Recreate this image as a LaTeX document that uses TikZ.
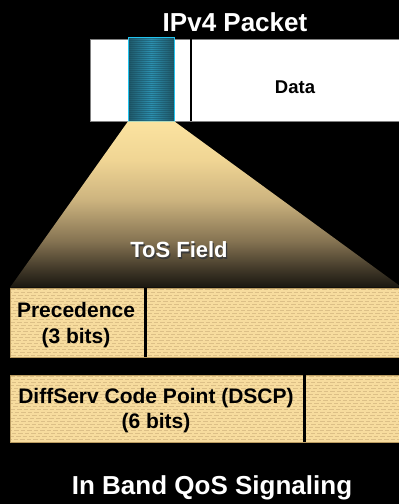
\documentclass[tikz,border=0pt]{standalone}
\usepackage{fontspec}
\setmainfont{Liberation Sans}
\definecolor{tosA}{HTML}{FBE3A0}
\definecolor{tosB}{HTML}{F0D594}
\definecolor{tosC}{HTML}{CDB47F}
\definecolor{tosD}{HTML}{857352}
\definecolor{tosE}{HTML}{3D3526}
\definecolor{tosF}{HTML}{1A1710}
\definecolor{fieldfill}{HTML}{F7DC9E}
\definecolor{fieldline}{HTML}{DCBF86}
\definecolor{fieldedge}{HTML}{B89A60}
\definecolor{teal1}{HTML}{1F5868}
\definecolor{teal2}{HTML}{2C90B0}
\definecolor{tealline}{HTML}{17495A}
\definecolor{cyanedge}{HTML}{22C4F0}
\definecolor{shadowgray}{HTML}{3A3A3A}
% vertical fade of the ToS wedge: light at the top, dark at the bottom
\pgfdeclareverticalshading{tosfade}{100bp}{%
  color(0bp)=(tosF); color(25bp)=(tosF); color(30bp)=(tosE);
  color(39bp)=(tosD); color(51.5bp)=(tosC); color(63.5bp)=(tosB);
  color(75bp)=(tosA); color(100bp)=(tosA)}
\tikzset{
  title/.style={text=white, font=\bfseries\fontsize{26}{26}\selectfont, inner sep=0pt},
  titleshadow/.style={text=shadowgray, font=\bfseries\fontsize{26}{26}\selectfont, inner sep=0pt},
  fieldtext/.style={text=black, font=\bfseries\fontsize{21}{25.5}\selectfont, align=center, inner sep=0pt},
  fieldbox/.style={fill=fieldfill, draw=fieldedge, line width=0.6pt},
  divider/.style={black, line width=3pt},
}
\begin{document}
\begin{tikzpicture}[x=1pt, y=-1pt]
\useasboundingbox (0,0) rectangle (399,504);
\fill[black] (0,0) rectangle (399,504);
\begin{scope}
\clip (0,0) rectangle (399,504);

% IPv4 packet bar
\node[title] (pkttitle) at (235,22) {IPv4 Packet};
\node[draw=gray, line width=0.8pt, fill=white, anchor=north west,
      minimum width=340pt, minimum height=82pt, inner sep=0pt] (packet) at (90,39) {};
\draw[black, line width=2.5pt] (191,39) -- (191,121);
\node[text=black, font=\bfseries\fontsize{18.5}{18.5}\selectfont, inner sep=0pt] (data) at (295,87) {Data};

% ToS byte inside the header
\node[anchor=north west, minimum width=46pt, minimum height=84pt, inner sep=0pt,
      left color=teal1, right color=teal1, middle color=teal2] (tos) at (128,37) {};
\begin{scope}
  \clip (tos.north west) rectangle (tos.south east);
  \foreach \k in {0,...,42}
    \draw[tealline, opacity=0.45, line width=0.5pt] (128,38+2*\k) -- (174,38+2*\k);
\end{scope}
\draw[cyanedge, line width=1pt] (tos.north west) rectangle (tos.south east);

% wedge widening from the ToS byte down to its fields
\coordinate (wedgeL) at (10,287.5);
\coordinate (wedgeR) at (402,287.5);
\shade[shading=tosfade] (tos.south west) -- (tos.south east) -- (wedgeR) -- (wedgeL) -- cycle;
\node[titleshadow, font=\bfseries\fontsize{22}{22}\selectfont] at (180.2,251.2) {ToS Field};
\node[title, font=\bfseries\fontsize{22}{22}\selectfont] (tosfield) at (179,250) {ToS Field};

% Precedence layout
\node[fieldbox, anchor=north west, minimum width=420pt, minimum height=69pt, inner sep=0pt] (precbox) at (10,288) {};
\begin{scope}
  \clip (10,288) rectangle (430,357);
  \foreach \k in {0,...,22}
    \draw[fieldline, line width=0.7pt, dash pattern=on 4.5pt off 2pt, dash phase=\k*2.3pt]
      (10,289.5+3*\k) -- (430,289.5+3*\k);
\end{scope}
\draw[fieldedge, line width=0.6pt] (precbox.north west) rectangle (precbox.south east);
\draw[divider] (145,288) -- (145,357);
\node[fieldtext] (prec) at (76,325) {Precedence\\(3 bits)};

% DSCP layout
\node[fieldbox, anchor=north west, minimum width=420pt, minimum height=67pt, inner sep=0pt] (dscpbox) at (10,375) {};
\begin{scope}
  \clip (10,375) rectangle (430,442);
  \foreach \k in {0,...,22}
    \draw[fieldline, line width=0.7pt, dash pattern=on 4.5pt off 2pt, dash phase=\k*2.3pt]
      (10,376.5+3*\k) -- (430,376.5+3*\k);
\end{scope}
\draw[fieldedge, line width=0.6pt] (dscpbox.north west) rectangle (dscpbox.south east);
\draw[divider] (304,375) -- (304,442);
\node[fieldtext] (dscp) at (156,410.5) {DiffServ Code Point (DSCP)\\(6 bits)};

% caption
\node[title] (caption) at (212,488) {In Band QoS Signaling};
\end{scope}
\end{tikzpicture}
\end{document}
